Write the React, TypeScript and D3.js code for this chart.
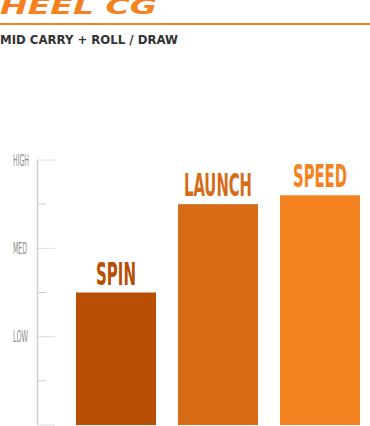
import React, { useRef, useLayoutEffect, useState } from 'react';
import * as d3 from 'd3';

// ==================== DATA ====================
const categories = ['SPIN', 'LAUNCH', 'SPEED'];
const values = [1.5, 2.5, 2.6];
const levelLabels = ['LOW', 'MED', 'HIGH'];
const levelValues = [1, 2, 3];
const minorValues = [0.5, 1.5, 2.5];

// ==================== STYLE ====================
const COLORS = {
    title: '#F5821F',
    subtitle: '#333333',
    axis: '#D0D0D0',
    tickLabel: '#8A8A8A',
    bars: ['#B84F04', '#D76B16', '#F58220'],
};
const W = 370;
const H = 426;
const labelFont = "'Liberation Sans Narrow', 'DejaVu Sans Condensed', 'Liberation Sans', sans-serif";

// text squeezed horizontally to a given width (scale, so the real box matches what is drawn)
const FitText = ({ x, y, width, children, ...rest }: any) => {
    const ref = useRef<SVGTextElement>(null);
    const [sx, setSx] = useState(1);
    useLayoutEffect(() => {
        if (!ref.current) return;
        const natural = ref.current.getComputedTextLength();
        if (natural > 0) setSx(width / natural);
    }, [width, children]);
    return (
        <text ref={ref} x={0} y={0} transform={`translate(${x},${y}) scale(${sx},1)`} {...rest}>
            {children}
        </text>
    );
};

const App = () => {
    const y = d3.scaleLinear().domain([0, 3]).range([425, 160]);
    const x = d3.scaleBand<string>()
        .domain(categories)
        .range([76, 360])
        .paddingInner(22 / 102)
        .paddingOuter(0);

    const axisX = 37.5;
    const labelWidths: Record<string, number> = { SPIN: 40, LAUNCH: 68, SPEED: 54 };
    const levelWidths: Record<string, number> = { LOW: 15, MED: 14, HIGH: 16 };

    return (
        <svg width={W} height={H} style={{ position: 'fixed', left: 0, top: 0, background: '#fff' }}>
            {/* header */}
            <FitText x={0} y={14} width={157} fill={COLORS.title} fontFamily="'DejaVu Sans', sans-serif"
                fontWeight="bold" fontStyle="italic" fontSize={22}>HEEL CG</FitText>
            <rect x={0} y={23} width={W} height={2} fill={COLORS.title} />
            <FitText x={0} y={44} width={178} fill={COLORS.subtitle} fontFamily="'DejaVu Sans', sans-serif"
                fontWeight="bold" fontSize={12.5}>MID CARRY + ROLL / DRAW</FitText>

            {/* axis */}
            <line x1={axisX} x2={axisX} y1={y(3)} y2={y(0)} stroke={COLORS.axis} strokeWidth={1.5} />
            {[0, ...levelValues].map(v => (
                <line key={'M' + v} x1={axisX} x2={55} y1={y(v)} y2={y(v)}
                    stroke="#BDBDBD" strokeWidth={1} strokeDasharray="1,1" />
            ))}
            {minorValues.map(v => (
                <line key={'m' + v} x1={axisX} x2={46} y1={y(v)} y2={y(v)}
                    stroke={COLORS.axis} strokeWidth={1} />
            ))}
            {levelLabels.map((l, i) => (
                <FitText key={l} x={13} y={y(levelValues[i]) + 5.5} width={levelWidths[l]}
                    fill={COLORS.tickLabel} fontFamily={labelFont} fontSize={15}>{l}</FitText>
            ))}

            {/* bars */}
            {categories.map((c, i) => {
                const bx = x(c) as number;
                const bw = x.bandwidth();
                const top = y(values[i]);
                return (
                    <g key={c}>
                        <rect x={bx} y={top} width={bw} height={y(0) - top} fill={COLORS.bars[i]} />
                        <FitText x={bx + bw / 2 - labelWidths[c] / 2} y={top - 8} width={labelWidths[c]}
                            fill={COLORS.bars[i]} fontFamily={labelFont} fontWeight="bold"
                            fontSize={32}>{c}</FitText>
                    </g>
                );
            })}
        </svg>
    );
};

export default App;
